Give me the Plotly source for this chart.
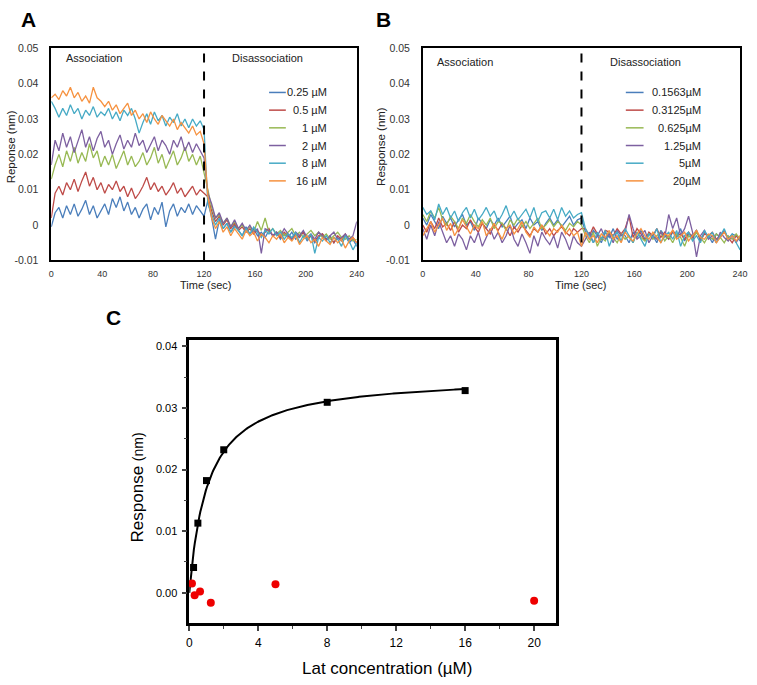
import numpy as np
import plotly.graph_objects as go

W, H = 757, 685

# time axis of the sensorgrams (sec)
TIME_S = list(range(0, 241, 3))

# Panel A responses in units of 0.001 nm
A_LABELS = ["0.25 µM", "0.5 µM", "1 µM", "2 µM", "8 µM", "16 µM"]
A_025 = [-0.5, 3.5, 5, 2, 5.5, 3, 6, 2.5, 4.5, 7, 3, 5.5, 2, 4, 6, 3, 7.5, 5, 8, 4, 6.5,
         3, 5, 2, 4.5, 6, 1.5, 5, 3, 6.5, -0.5, 4, 6, 2.5, 5, 3.5, 6, 3, 5.5, 4, 2.5,
         7, 2, -4, 1.5, -1, 0.5, -2, 0, -1.5, -3, -0.5, -2.5, -1, -3, -2, -3.5, -1.5, -3, -2, -4,
         -2.5, -3.5, -2, -4, -3, -2, -4.5, -3, -5, -3.5, -2.5, -4, -3, -5, -3.5, -4.5, -3, -5, -4, -6]
A_05 = [2, 9, 11, 8.5, 12, 10, 13, 9.5, 12.5, 15, 11, 13.5, 10, 12, 9, 11.5, 10, 12.5, 9.5, 11,
        8, 10.5, 7.5, 9, 11, 13.5, 10, 12, 9.5, 11, 8.5, 10, 12, 9, 10.5, 8, 9.5, 11, 8.5, 10, 9,
        8, 4, 1, 2.5, 0, 1.5, -1, 0.5, -1.5, -0.5, -2, -1, -2.5, -1.5, -3, -2, -1, -3, -2.5, -3.5,
        -2, -3, -4, -2.5, -3.5, -2, -4, -3, -4.5, -3, -2.5, -4, -3.5, -5, -3, -4, -2.5, -4.5, -3.5, -5]
A_1 = [13, 17, 20, 16.5, 21, 18, 22, 17.5, 20.5, 18, 23, 19, 21, 16.5, 19.5, 17, 20, 16, 18.5, 21,
       17, 19.5, 16.5, 18, 20.5, 17, 19, 22, 17.5, 20, 16, 18.5, 21, 17, 19, 22, 18, 20, 17, 19.5, 15,
       10, 5, 2, 3, 0.5, 2, -0.5, 1, -1, 0, -1.5, -0.5, -2, 1, -1.5, 2, -2, -1, -2.5, -1.5,
       -3, -2, -1, -3, -2, -3.5, -2.5, -1.5, -3, -2, -3.5, -2.5, -4, -3, -2, -3.5, -4, -3, -4.5, -4]
A_2 = [17, 24, 21, 26, 22, 25, 20.5, 24, 27, 22, 25, 21, 24.5, 26.5, 22, 24, 20, 23, 25.5, 21.5,
       24, 22, 26, 22.5, 24, 20.5, 23, 25, 21, 24, 22.5, 20, 24, 22, 25, 21, 23.5, 20.5, 23, 21, 19,
       9, 6, 2, 3.5, 0.5, 2, -0.5, 1.5, -1, 0.5, -1.5, 0, -2, -1, -8, -1, -1.5, -3, -2, -3,
       -1, -2.5, -4, -2, -3, -1.5, -3.5, -2.5, -4, -2, -3, -4.5, -3, -2, -4, -3.5, -2.5, -4, -3, 1]
A_8 = [35, 33, 30.5, 33, 31, 34, 31.5, 33, 30, 32.5, 31, 33.5, 30.5, 32, 31, 33, 30, 32, 29.5, 32.5,
       31, 33, 30, 26, 29, 31.5, 28.5, 32, 29.5, 31, 28, 30.5, 29, 31.5, 28, 30, 27.5, 30, 28, 29.5, 27,
       6, 3, 0, 2, -1, 0.5, -2, -0.5, -1.5, -3, -1, -2.5, -0.5, -2, -3.5, -1.5, -2.5, -1, -3, -2,
       -4, -2.5, -3.5, -2, -5, -3, -4, -2.5, -8, -3.5, -4.5, -3, -5, -3.5, -4, -6, -3, -4.5, -7, -5]
A_16 = [36, 37, 35.5, 38, 36.5, 39, 36, 37.5, 35, 36.5, 34.5, 39, 36, 35, 33.5, 35, 32.5, 34, 31.5, 33,
        34.5, 31, 32.5, 30, 31.5, 29, 32, 30, 28.5, 31, 29.5, 28, 30, 27, 29, 27.5, 26, 28, 25.5, 26.5, 23,
        8, 2, -1, 1, -2, -0.5, -3, -1, -2.5, -4, -1.5, -3, -2, -4.5, -2.5, -3.5, -5, -3, -4, -2.5,
        -5, -3.5, -4.5, -3, -5.5, -4, -3, -5, -4, -6, -3.5, -4.5, -5.5, -3.5, -5, -4, -6.5, -4.5, -3.5, -5]

# Panel B responses (0.001 nm)
B_LABELS = ["0.1563µM", "0.3125µM", "0.625µM", "1.25µM", "5µM", "20µM"]
B_01563 = [2, 0, 3, 1, -1, 2.5, 0.5, 2, -0.5, 1.5, 3, 0, 1, -1.5, 2, 0.5, -1, 1.5, 0, 2,
           -0.5, 1, 2.5, -1, 0.5, 1.5, -1, 2, 0, 1, -1.5, 0.5, 2, 0, 1.5, -0.5, 1, 2.5, 0, 1.5, 2,
           -2, -4, -1.5, -3, -5, -2, -3.5, -1, -4, -2.5, -3, -5, -2, -3.5, -1.5, -4, -2.5, -3, -5, -1.5,
           -3, -4, -2, -3.5, -1, -4.5, -2.5, -3, -1.5, -4, -2, -3, -5, -2.5, -3.5, -1.5, -4, -2.5, -3, -4.5]
B_03125 = [0, -2, 1, -1, 2, -0.5, 0.5, -1.5, 1, -2, 0, -1, 1.5, -0.5, -2, 0.5, -1, -2.5, 0, -1.5,
           0.5, -1, -3, -0.5, -2, 0, -1.5, -3, -1, -2, 0, -2.5, -1, -3, -1.5, -0.5, -2, -3, -1, -2, -1,
           -1, -3, -0.5, -2.5, -4, -1.5, -2, -3, -1, -2.5, -1, 2.5, -3.5, -1, -2.5, -4.5, -2, -3, -1, -3.5,
           -2, -4, -1.5, -3, -2.5, -4, -2, -3.5, -1.5, -4.5, -2.5, -3, -2, -4, -3, -2, -3.5, -5, -3, -4]
B_0625 = [3, 1, 4, 2, 5, 1.5, 0, 2.5, 1, -1, 2, 0.5, 3, 1, -0.5, 1.5, 0, 2, -1, 1,
          0.5, -1.5, 1.5, 0, 2, -0.5, 1, -1, 0.5, 2, -1, 0, 1.5, -0.5, 1, 0, -1.5, 0.5, -0.5, 1, 0,
          -3, -5, -2, -6, -3.5, -4.5, -2, -3.5, -5, -2.5, -4, -3, -5, -2, -3.5, -4.5, -2.5, -4, -3, -2,
          -4.5, -3, -5, -2.5, -3.5, -6, -3, -4, -2, -3.5, -5, -3, -4, -2.5, -3.5, -5, -3, -4, -2.5, -4]
B_125 = [-1, -4, 0, -3, 1, -2, -5, -3, -6, -2.5, -4, -7, -3, -5, -2, -6, -3.5, -1, -4, -2,
         -5, -3, 0, -4, -6, -2.5, -5, -8, -3, -6, -2, -4, -5.5, -3, -6.5, -2, -4, -7, -3, -5, -6,
         -4, -2, -5, -3, -1, -4, -2.5, -5, -1.5, -3, -2, 3, -1, -4, -3, -1.5, -5, -3, -4, -2,
         -3.5, 3, -1, 2, -3, -1, 2.5, -2, -9, -3, -1.5, -4, -3, -5, -2, -3.5, -4.5, -3, -5, -3]
B_5 = [5, 3, 4, 1.5, 6, 3, 5, 2, 4, 1, 3.5, 5, 2, 4.5, 1.5, 3, 5, 2.5, 4, 1,
       3, 5.5, 2, 4, 1.5, 3, 4.5, 2, 5, 1, 3.5, 4, 2, 4.5, 1.5, 5, 2.5, 4, 2, 3, 3.5,
       -1, -3, -5, -2, -4, -1.5, -6, -3, -2, -4.5, -1, -3, -5, -2, -4, -6, -2.5, -3.5, -1, -5,
       -3, -2, -4, -1.5, -6, -3, -2, -4.5, -3, -5, -1.5, -3.5, -2, -5, -3, -1, -4, -2.5, -5, -7]
B_20 = [-3, -1, 1, -2, 0, 2, -1.5, 0.5, -3, -1, 1.5, -0.5, -2.5, 0, -1, 1, -3, -1.5, 0.5, -2,
        -4, -1, 0, -2.5, -1, 1, -2, -3.5, -0.5, -2, 0, -1.5, -3, -1, -2, 0, -2.5, -1, -3, -2, -6,
        -2, -4, -3, -5, -2.5, -3.5, -1.5, -4, -3, -5, -2, -3.5, -4.5, -2.5, -1, -3, -4, -2, -3.5, -5,
        -2.5, -3, -1.5, -4, -3, -2, -4.5, -3, -1.5, -3.5, -4, -2.5, -3, -5, -3.5, -2, -4, -3, -4.5, -3]

COLORS = ["#4a7ebb", "#be4b48", "#98b954", "#7d60a0", "#46aac5", "#f69240"]

SENSOR_TICKS = [0, 40, 80, 120, 160, 200, 240]
RESP_TICKS = [0.05, 0.04, 0.03, 0.02, 0.01, 0, -0.01]
RESP_TEXT = ["0.05", "0.04", "0.03", "0.02", "0.01", "0", "-0.01"]

# Panel C: steady-state response vs concentration
LAT_UM = [0.25, 0.5, 1, 2, 8, 16]
LAT_RESP = [0.0041, 0.0113, 0.0182, 0.0232, 0.0309, 0.0328]
CTRL_UM = [0.1563, 0.3125, 0.625, 1.25, 5, 20]
CTRL_RESP = [0.0015, -0.0004, 0.0002, -0.0016, 0.0014, -0.0013]

A_SERIES = [A_025, A_05, A_1, A_2, A_8, A_16]
B_SERIES = [B_01563, B_03125, B_0625, B_125, B_5, B_20]
for s in A_SERIES + B_SERIES:
    assert len(s) == len(TIME_S), len(s)


def px(x):
    return x / W


def py(y):
    return 1 - y / H


FONT = "Liberation Sans, Arial, sans-serif"
fig = go.Figure()

for vals, col, name in zip(A_SERIES, COLORS, A_LABELS):
    fig.add_trace(go.Scatter(x=TIME_S, y=np.array(vals) * 1e-3, mode="lines", name=name,
                             line=dict(color=col, width=1.3), xaxis="x", yaxis="y"))
for vals, col, name in zip(B_SERIES, COLORS, B_LABELS):
    fig.add_trace(go.Scatter(x=TIME_S, y=np.array(vals) * 1e-3, mode="lines", name=name,
                             line=dict(color=col, width=1.3), xaxis="x2", yaxis="y2"))

# one-site binding fit for panel C (least squares over Kd)
conc = np.array(LAT_UM)
resp = np.array(LAT_RESP)
best = None
for kd in np.linspace(0.05, 5, 2000):
    f = conc / (kd + conc)
    bmax = (f @ resp) / (f @ f)
    sse = ((bmax * f - resp) ** 2).sum()
    if best is None or sse < best[0]:
        best = (sse, kd, bmax)
_, kd, bmax = best
xfit = np.linspace(0, max(LAT_UM), 300)
fig.add_trace(go.Scatter(x=xfit, y=bmax * xfit / (kd + xfit), mode="lines",
                         line=dict(color="black", width=2), xaxis="x3", yaxis="y3"))
fig.add_trace(go.Scatter(x=LAT_UM, y=LAT_RESP, mode="markers", cliponaxis=False,
                         marker=dict(symbol="square", size=7, color="black"),
                         xaxis="x3", yaxis="y3"))
fig.add_trace(go.Scatter(x=CTRL_UM, y=CTRL_RESP, mode="markers", cliponaxis=False,
                         marker=dict(symbol="circle", size=8, color="#ee0000"),
                         xaxis="x3", yaxis="y3"))

sensor_x = dict(range=[0, 240], tickvals=SENSOR_TICKS, showline=True, mirror=True,
                linecolor="black", linewidth=1.5, ticks="", showgrid=False, zeroline=False,
                tickfont=dict(size=9, color="#333", family=FONT), ticklabelstandoff=4)
sensor_y = dict(range=[-0.01, 0.05], tickvals=RESP_TICKS, ticktext=RESP_TEXT, showline=True,
                mirror=True, linecolor="black", linewidth=1.5, ticks="", showgrid=False,
                zeroline=False, tickfont=dict(size=10.5, color="#333", family=FONT),
                ticklabelstandoff=9)

fig.update_layout(
    width=W, height=H, margin=dict(l=0, r=0, t=0, b=0),
    plot_bgcolor="white", paper_bgcolor="white", showlegend=False,
    font=dict(family=FONT),
    xaxis=dict(sensor_x, domain=[px(49), px(359)], anchor="y"),
    yaxis=dict(sensor_y, domain=[py(259), py(43)], anchor="x"),
    xaxis2=dict(sensor_x, domain=[px(426), px(748)], anchor="y2"),
    yaxis2=dict(sensor_y, domain=[py(259), py(43)], anchor="x2"),
    xaxis3=dict(domain=[px(189), px(561)], anchor="y3", range=[0, 21.26],
                tickvals=[0, 4, 8, 12, 16, 20], showline=True, mirror=True,
                linecolor="black", linewidth=2.5, ticks="outside", ticklen=5, tickwidth=1.5,
                minor=dict(ticks="outside", ticklen=3, tickwidth=1.2, dtick=2, tick0=0),
                showgrid=False, zeroline=False, ticklabelstandoff=2,
                tickfont=dict(size=12, color="black", family=FONT)),
    yaxis3=dict(domain=[py(628), py(340)], anchor="x3", range=[-0.0049, 0.041],
                tickvals=[0, 0.01, 0.02, 0.03, 0.04], tickformat=".2f", showline=True,
                mirror=True, linecolor="black", linewidth=2.5, ticks="outside", ticklen=5,
                tickwidth=1.5,
                minor=dict(ticks="outside", ticklen=3, tickwidth=1.2, dtick=0.005, tick0=0),
                showgrid=False, zeroline=False, ticklabelstandoff=2,
                tickfont=dict(size=11, color="black", family=FONT)),
)

shapes = []
for xr in ["x", "x2"]:
    shapes.append(dict(type="line", xref=xr, yref=xr.replace("x", "y") + " domain",
                       x0=120, x1=120, y0=0, y1=1,
                       line=dict(color="black", width=2, dash="dash")))

ann = []


def text(x, y, s, size, anchor="center", angle=0, color="#222"):
    ann.append(dict(x=px(x), y=py(y), xref="paper", yref="paper", text=s, showarrow=False,
                    xanchor=anchor, yanchor="middle", textangle=angle,
                    font=dict(size=size, color=color, family=FONT)))


# legends drawn by hand so labels stay right-aligned as in the original
for (l0, l1, tx), labels in [((270, 287, 331), A_LABELS), ((632, 650, 710), B_LABELS)]:
    for i, (lab, col) in enumerate(zip(labels, COLORS)):
        yy = 88 + 18 * i
        shapes.append(dict(type="line", xref="paper", yref="paper", x0=px(l0), x1=px(l1),
                           y0=py(yy), y1=py(yy), line=dict(color=col, width=1.5)))
        text(tx, yy, lab, 11, anchor="right")

text(26, 14, "<b>A</b>", 21, color="black")
text(386, 14, "<b>B</b>", 21, color="black")
text(112, 317, "<b>C</b>", 21, color="black")
text(62, 53, "Association", 11, anchor="left")
text(230, 53, "Disassociation", 11, anchor="left")
text(438, 57, "Association", 11, anchor="left")
text(614, 57, "Disassociation", 11, anchor="left")
text(206, 284, "Time (sec)", 11)
text(587, 284, "Time (sec)", 11)
text(9, 143, "Reponse (nm)", 11.5, angle=-90)
text(384, 143, "Response (nm)", 11.5, angle=-90)
text(390, 674, "Lat concentration (µM)", 17, color="black")
text(136, 490, "Response <span style='font-size:14px'>(nm)</span>", 17, angle=-90,
     color="black")

fig.update_layout(shapes=shapes, annotations=ann)
fig.write_html("out.html", config={"displayModeBar": False},
               post_script="document.body.style.margin='0px';")
